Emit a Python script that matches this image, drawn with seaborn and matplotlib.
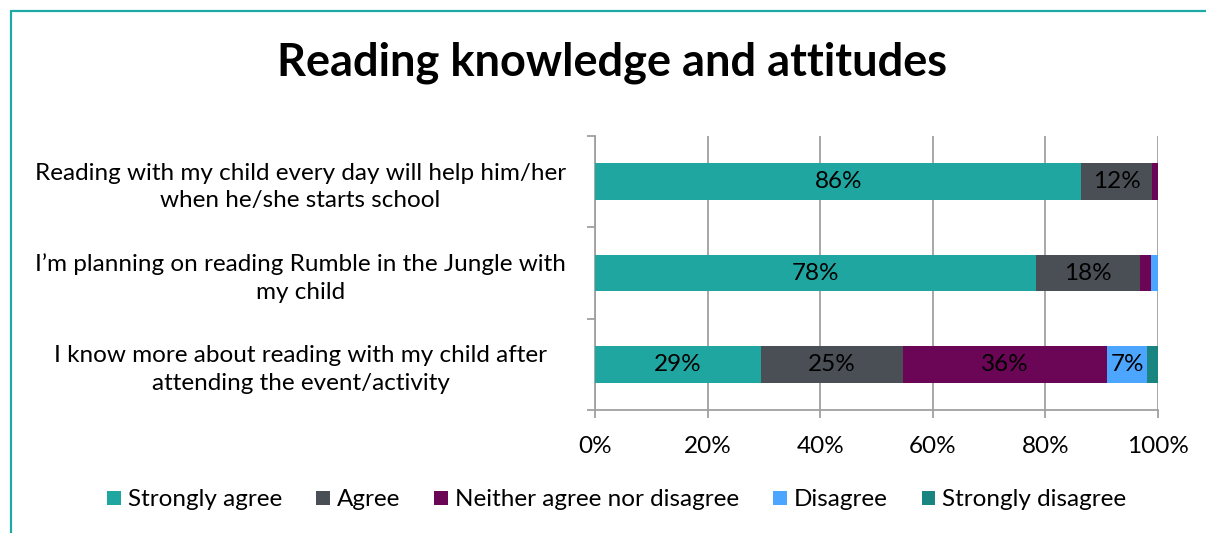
import numpy as np
import pandas as pd
import matplotlib
matplotlib.use("Agg")
import matplotlib.pyplot as plt
from matplotlib.lines import Line2D
from matplotlib.patches import Patch
import seaborn as sns

# Survey statements (top to bottom)
statements = [
    "Reading with my child every day will help him/her\nwhen he/she starts school",
    "I\u2019m planning on reading Rumble in the Jungle with\nmy child",
    "I know more about reading with my child after\nattending the event/activity",
]

# Response shares (%) per statement
strongly_agree = [86.4, 78.4, 29.4]
agree = [12.5, 18.4, 25.3]
neither = [1.1, 2.0, 36.3]
disagree = [0.0, 1.2, 7.1]
strongly_disagree = [0.0, 0.0, 1.9]

series_names = ["Strongly agree", "Agree", "Neither agree nor disagree",
                "Disagree", "Strongly disagree"]
series_values = [strongly_agree, agree, neither, disagree, strongly_disagree]
series_colors = ["#1FA6A0", "#4A4F55", "#6B0656", "#4CA5FF", "#1A8580"]

x_ticks = [0, 20, 40, 60, 80, 100]
x_tick_labels = ["0%", "20%", "40%", "60%", "80%", "100%"]

sns.set_theme(style="white")
plt.rcParams["font.family"] = ["Lato", "DejaVu Sans"]
plt.rcParams["text.color"] = "black"

W, H = 1206, 533
fig = plt.figure(figsize=(W / 100, H / 100), dpi=100)
fig.patch.set_facecolor("white")

ax = fig.add_axes([595 / W, 1 - 410 / H, 563 / W, 274 / H])

# Stacked bars: draw cumulative totals from the outermost segment inward
vals = np.array(series_values, dtype=float)
cum = np.cumsum(vals, axis=0)
df = pd.DataFrame({"statement": statements})
for i in range(len(series_names) - 1, -1, -1):
    df["total"] = cum[i]
    sns.barplot(data=df, x="total", y="statement", orient="h",
                color=series_colors[i], saturation=1, width=0.4,
                linewidth=0, ax=ax, zorder=3)

fs = 17.5

# Segment labels
for i in range(len(series_names)):
    starts = cum[i] - vals[i]
    for j, v in enumerate(vals[i]):
        if v >= 5:
            ax.text(starts[j] + v / 2, j, f"{v:.0f}%", ha="center", va="center",
                    fontsize=fs, color="black", zorder=5)

ax.set_xlim(0, 100)
ax.set_ylim(2.5, -0.5)
ax.set_xlabel("")
ax.set_ylabel("")

grid_color = "#A0A0A0"
ax.set_xticks(x_ticks)
ax.set_xticklabels(x_tick_labels, fontsize=fs, color="black")
ax.xaxis.grid(True, color=grid_color, linewidth=1.3, zorder=0)
ax.yaxis.grid(False)
ax.tick_params(axis="x", bottom=True, length=6, width=1.3, color=grid_color,
               direction="out", pad=13)

ax.set_yticks([0, 1, 2])
ax.set_yticklabels(statements, fontsize=fs, ha="center",
                   multialignment="center", color="black", linespacing=1.4)
ax.set_yticks([-0.5, 0.5, 1.5, 2.5], minor=True)
ax.tick_params(axis="y", which="major", length=0, pad=212)
ax.tick_params(axis="y", which="minor", left=True, length=6, width=1.3,
               color=grid_color, direction="out")

for side in ["top", "right"]:
    ax.spines[side].set_visible(False)
for side in ["left", "bottom"]:
    ax.spines[side].set_color(grid_color)
    ax.spines[side].set_linewidth(1.3)

fig.text(612 / W, 1 - 63 / H, "Reading knowledge and attitudes",
         ha="center", va="center", fontsize=32.5, fontweight="bold",
         color="black")

handles = [Patch(facecolor=c, edgecolor="none", label=n)
           for n, c in zip(series_names, series_colors)]
fig.legend(handles=handles, loc="center", bbox_to_anchor=(617 / W, 1 - 500 / H),
           ncol=5, frameon=False, fontsize=fs, handlelength=0.55,
           handleheight=0.55, handletextpad=0.3, columnspacing=1.4)

# Chart frame
frame_color = "#1FA9A5"
fig.add_artist(Line2D([10.5 / W, 10.5 / W], [0, 1 - 11 / H],
                      transform=fig.transFigure, color=frame_color, linewidth=1.6))
fig.add_artist(Line2D([10.5 / W, 1], [1 - 11 / H, 1 - 11 / H],
                      transform=fig.transFigure, color=frame_color, linewidth=1.6))

fig.savefig("out.png", dpi=100, facecolor="white")
